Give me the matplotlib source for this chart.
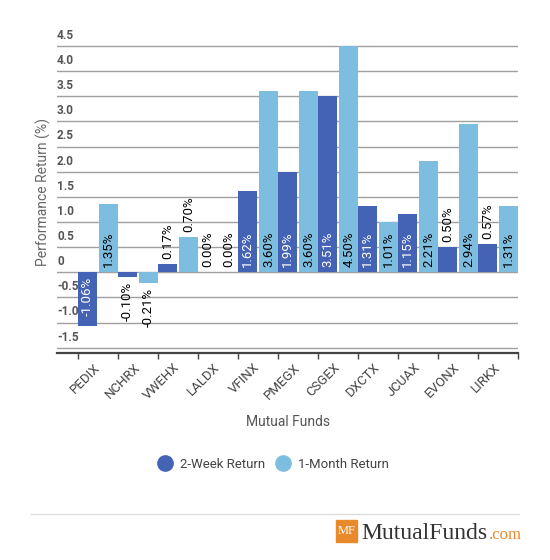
import matplotlib
matplotlib.use("Agg")
import matplotlib.pyplot as plt
from matplotlib.lines import Line2D
from matplotlib.patches import Rectangle

plt.rcParams["font.family"] = ["Roboto", "DejaVu Sans"]

# --------------------- DATA ---------------------

funds = ["PEDIX", "NCHRX", "VWEHX", "LALDX", "VFINX", "PMEGX",
         "CSGEX", "DXCTX", "JCUAX", "EVONX", "LIRKX"]
two_week = [-1.06, -0.10, 0.17, 0.00, 1.62, 1.99, 3.51, 1.31, 1.15, 0.50, 0.57]
one_month = [1.35, -0.21, 0.70, 0.00, 3.60, 3.60, 4.50, 1.01, 2.21, 2.94, 1.31]
y_ticks = [4.5, 4.0, 3.5, 3.0, 2.5, 2.0, 1.5, 1.0, 0.5, 0, -0.5, -1.0, -1.5]
y_tick_labels = ["4.5", "4.0", "3.5", "3.0", "2.5", "2.0", "1.5", "1.0",
                 "0.5", "0", "-0.5", "-1.0", "-1.5"]

dark = "#4563b4"
light = "#7dbde0"

W, H = 550, 560
fig = plt.figure(figsize=(W / 100, H / 100), dpi=100)
ax = fig.add_axes([57 / W, 1 - 353 / H, 461 / W, 313 / H])

x = list(range(len(funds)))
bw = 0.465
ax.bar([i + 0.005 for i in x], two_week, width=bw, align="edge", color=dark, zorder=3)
ax.bar([i + 0.535 for i in x], one_month, width=bw, align="edge", color=light, zorder=3)

ax.set_xlim(-0.525, 11)
ax.set_ylim(-1.605, 4.62)

# grid + y labels
for yv, lab in zip(y_ticks, y_tick_labels):
    ax.axhline(yv, color="#a0a0a0", lw=1, zorder=1)
    ax.annotate(lab, xy=(0, yv), xycoords=("axes fraction", "data"),
                xytext=(0, 3), textcoords="offset points",
                ha="left", va="bottom", fontsize=8.5, fontweight="bold",
                color="#555555")
ax.set_yticks([])

for s in ["top", "right", "left"]:
    ax.spines[s].set_visible(False)
ax.spines["bottom"].set_color("#444444")
ax.spines["bottom"].set_linewidth(1.6)
ax.spines["bottom"].set_zorder(4)

ax.set_xticks(range(len(funds) + 1))
ax.set_xticklabels([])
ax.tick_params(axis="x", which="major", length=4, width=1, color="#444444")
ax.set_xticks([i + 0.5 for i in x], minor=True)
ax.set_xticklabels(funds, minor=True, rotation=45, ha="right", va="center",
                   rotation_mode="anchor", fontsize=9.5, color="#444444")
ax.tick_params(axis="x", which="minor", length=0, pad=9)

# value labels
def put_label(xc, v, fill_text):
    inside = abs(v) > 0.8
    if v >= 0:
        y = 0 if inside else v
        va, dy = "bottom", 3.5
    else:
        y = 0 if inside else v
        va, dy = "top", -3.5
    col = fill_text if inside else "black"
    ax.annotate(f"{v:.2f}%", xy=(xc, y), xytext=(0, dy), textcoords="offset points",
                rotation=90, ha="center", va=va, fontsize=9.5, color=col, zorder=5)

for i in x:
    put_label(i + 0.005 + bw / 2, two_week[i], "white")
    put_label(i + 0.535 + bw / 2, one_month[i], "black")

# axis titles
fig.text(43 / W, 1 - 192.5 / H, "Performance Return (%)", rotation=90,
         ha="center", va="center", fontsize=10, color="#666666")
fig.text(287.6 / W, 1 - 422 / H, "Mutual Funds", ha="center", va="center",
         fontsize=10, color="#555555")

# legend
handles = [Line2D([], [], marker="o", ls="", markersize=11, color=dark),
           Line2D([], [], marker="o", ls="", markersize=11, color=light)]
fig.legend(handles, ["2-Week Return", "1-Month Return"], loc="center",
           bbox_to_anchor=(273 / W, 1 - 464 / H), ncol=2, frameon=False,
           fontsize=9.5, labelcolor="#444444", handletextpad=0.5,
           columnspacing=0.8, handlelength=1.2)

# footer
fig.add_artist(Line2D([30.5 / W, 519 / W], [1 - 513.5 / H, 1 - 513.5 / H],
                      color="#dddddd", lw=1))
fig.add_artist(Rectangle((335.7 / W, 1 - 542 / H), 21 / W, 22 / H,
                         color="#e8892b", transform=fig.transFigure))
fig.text(346.2 / W, 1 - 531 / H, "MF", ha="center", va="center",
         family="Liberation Serif", fontsize=9, color="white")
fig.text(361 / W, 1 - 539 / H, "MutualFunds", ha="left", va="baseline",
         family="Liberation Serif", fontsize=17, color="#333333")
fig.text(489 / W, 1 - 539 / H, ".com", ha="left", va="baseline",
         family="Liberation Serif", fontsize=12, color="#e8892b")

fig.savefig("out.png", dpi=100)
